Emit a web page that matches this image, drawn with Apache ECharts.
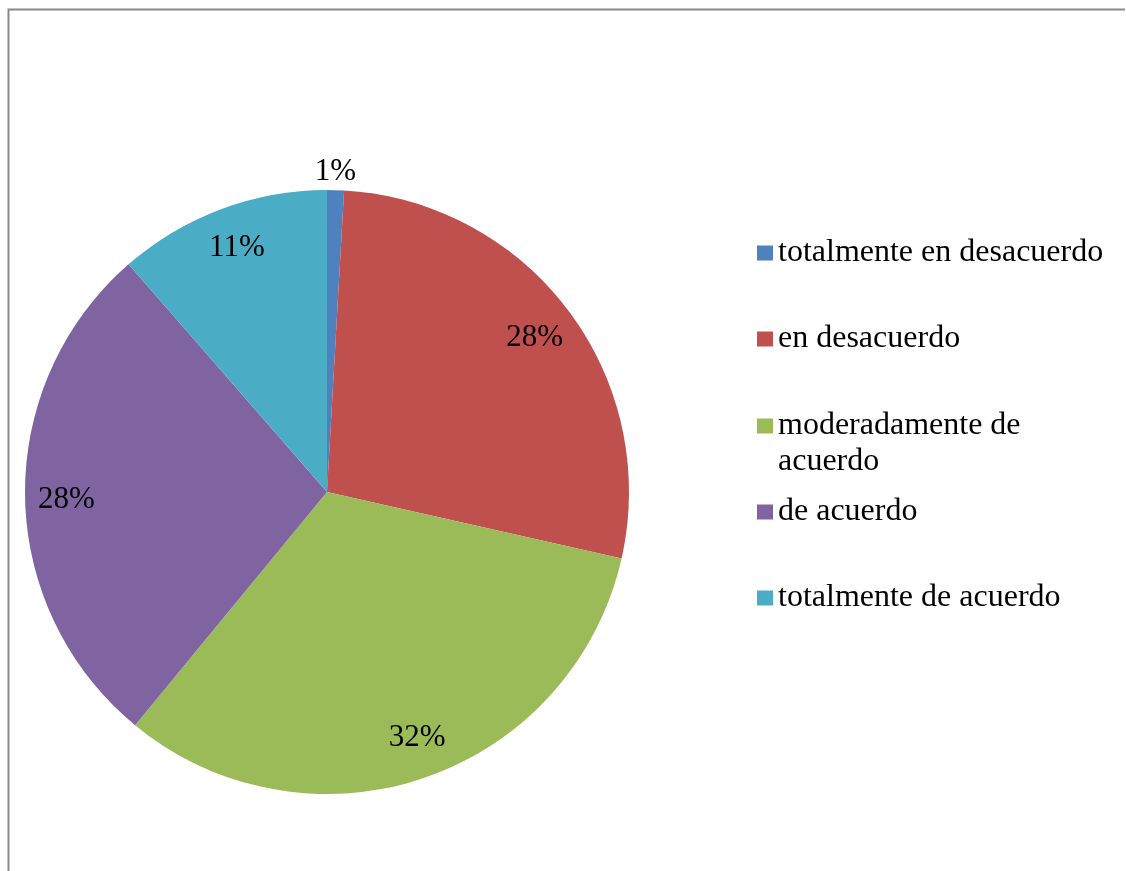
<!DOCTYPE html>
<html>
<head>
<meta charset="utf-8">
<script src="https://cdn.jsdelivr.net/npm/echarts@6/dist/echarts.min.js"></script>
<style>
html, body { margin: 0; padding: 0; background: #fff; }
#echart { width: 1126px; height: 871px; }
</style>
</head>
<body>
<div id="echart"></div>
<script>
// data
var categories = ['totalmente en desacuerdo', 'en desacuerdo', 'moderadamente de acuerdo', 'de acuerdo', 'totalmente de acuerdo'];
// the wrapped row gets an empty first line so its marker lines up with "moderadamente de"
var legendText = ['totalmente en desacuerdo', 'en desacuerdo', '\nmoderadamente de\nacuerdo', 'de acuerdo', 'totalmente de acuerdo'];
var values = [0.9, 27.6, 32.4, 27.6, 11.4];
var colors = ['#4f81bd', '#c0504d', '#9bbb59', '#8064a2', '#4bacc6'];

var font = "'Liberation Serif', 'Times New Roman', serif";
var myChart = echarts.init(document.getElementById('echart'));

var pieData = [];
var labelData = [];
for (var i = 0; i < categories.length; i++) {
	pieData.push({ name: categories[i], value: values[i] });
	labelData.push({ name: categories[i], value: values[i] });
}
// small slice label sits above the pie, others nudged like the excel best fit
labelData[0].label = { offset: [1, -58] };
labelData[1].label = { offset: [-2, 4] };
labelData[2].label = { offset: [5, -2] };
labelData[3].label = { offset: [2, 4] };
labelData[4].label = { offset: [2, 2] };

// one legend per row
var legendTops = [235, 321, 372, 494, 580];
var legends = [];
for (var j = 0; j < categories.length; j++) {
	legends.push({
		orient: 'vertical',
		left: 757,
		top: legendTops[j],
		padding: 0,
		itemWidth: 16,
		itemHeight: 15,
		icon: 'rect',
		selectedMode: false,
		data: [categories[j]],
		formatter: (function (t) { return function () { return t; }; })(legendText[j]),
		textStyle: {
			fontFamily: font,
			fontSize: 32,
			lineHeight: 36,
			color: '#000'
		}
	});
}

var option = {
	animation: false,
	color: colors,
	legend: legends,
	graphic: [{
		type: 'polyline',
		shape: { points: [[8.5, 871], [8.5, 9.5], [1125, 9.5]] },
		style: { stroke: '#898989', lineWidth: 2, fill: null },
		silent: true
	}],
	series: [{
		name: 'main',
		type: 'pie',
		center: [327, 492],
		radius: 302,
		startAngle: 90,
		clockwise: true,
		label: { show: false },
		labelLine: { show: false },
		itemStyle: { borderWidth: 0 },
		emphasis: { disabled: true },
		data: pieData
	}, {
		name: 'labels',
		type: 'pie',
		center: [327, 492],
		radius: [217, 302],
		startAngle: 90,
		clockwise: true,
		silent: true,
		itemStyle: { color: 'rgba(0,0,0,0)', borderWidth: 0 },
		labelLine: { show: false },
		label: {
			show: true,
			position: 'inside',
			fontFamily: font,
			fontSize: 31,
			color: '#000',
			formatter: function (p) { return Math.round(p.percent) + '%'; }
		},
		emphasis: { disabled: true },
		data: labelData
	}]
};
myChart.setOption(option);
</script>
</body>
</html>
